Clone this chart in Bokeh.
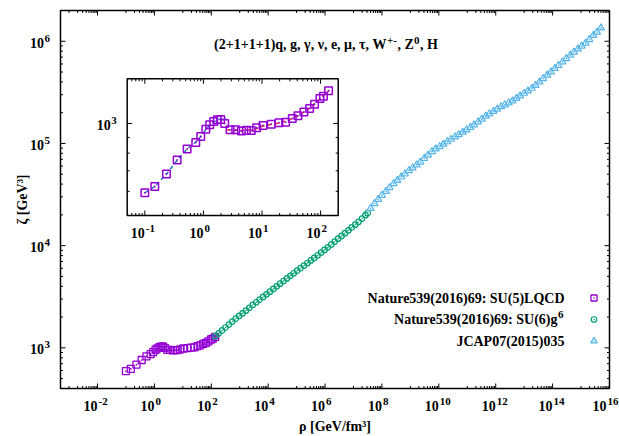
import math
from bokeh.plotting import figure
from bokeh.models import Range1d, LogScale, Label
from bokeh.embed import file_html
from bokeh.resources import INLINE

# ---------------- data ----------------
# Nature539(2016)69: SU(5) LQCD
lqcd_rho = [0.10, 0.148, 0.234, 0.356, 0.527, 0.74, 0.90, 1.10, 1.28, 1.50, 1.73, 1.97, 2.31,
            2.85, 3.56, 4.44, 5.41, 6.58, 8.11, 10.4, 14.4, 19.5, 25.3, 32.9, 41.1, 52.0,
            65.0, 79.0, 97.5, 112.0, 137.0]
lqcd_zeta = [593, 622, 684, 760, 825, 867, 907, 958, 990, 1015, 1028, 1030, 1000,
             953, 953, 944, 951, 949, 968, 985, 995, 1005, 1010, 1038, 1059, 1091,
             1119, 1156, 1206, 1227, 1280]
# inset curves (confined / deconfined branches)
conf_rho = [0.10, 0.15, 0.24, 0.36, 0.53, 0.74, 0.92, 1.12, 1.40, 1.80, 2.45]
conf_zeta = [593, 624, 687, 760, 826, 868, 910, 960, 1005, 1030, 1042]
deconf_rho = [2.47, 3.5, 5.0, 7.0, 10.0, 15.0, 20.0, 30.0, 40.0, 55.0, 75.0, 100.0, 142.0]
deconf_zeta = [953, 950, 948, 952, 978, 995, 1004, 1030, 1057, 1097, 1150, 1210, 1284]
# Nature539(2016)69: SU(6) g^6
g6_rho = [138, 182, 240, 316, 417, 550, 724, 955, 1259, 1660, 2188, 2884, 3802, 5012, 6607, 8710,
          1.148e4, 1.514e4, 1.995e4, 2.63e4, 3.467e4, 4.571e4, 6.026e4, 7.943e4,
          1.047e5, 1.38e5, 1.82e5, 2.40e5, 3.16e5, 4.17e5, 5.50e5, 7.24e5, 9.55e5,
          1.26e6, 1.66e6, 2.19e6, 2.88e6, 3.80e6, 5.01e6, 6.61e6, 8.71e6,
          1.15e7, 1.51e7, 2.0e7, 2.63e7, 3.16e7]
g6_zeta = [1300, 1387, 1479, 1581, 1690, 1807, 1928, 2051, 2178, 2317, 2466, 2630, 2793, 2965, 3148, 3342,
           3548, 3767, 3999, 4246, 4508, 4786, 5070, 5370,
           5690, 6026, 6383, 6761, 7161, 7586, 8054, 8551, 9078,
           9638, 1.028e4, 1.096e4, 1.169e4, 1.245e4, 1.324e4, 1.413e4, 1.507e4,
           1.603e4, 1.710e4, 1.841e4, 1.986e4, 2.080e4]
# JCAP07(2015)035
jcap_rho = [3.98e7, 5.50e7, 7.41e7, 1.0e8, 1.38e8, 1.86e8, 2.57e8, 3.47e8, 4.79e8, 6.46e8, 8.91e8,
            1.20e9, 1.66e9, 2.24e9, 3.09e9, 4.17e9, 5.75e9, 7.76e9, 1.07e10, 1.45e10, 2.0e10,
            2.69e10, 3.72e10, 5.01e10, 6.92e10, 9.33e10, 1.29e11, 1.74e11, 2.40e11, 3.24e11,
            4.47e11, 6.03e11, 8.32e11, 1.12e12, 1.55e12, 2.09e12, 2.88e12, 3.89e12, 5.37e12,
            7.24e12, 1.0e13, 1.35e13, 1.86e13, 2.51e13, 3.47e13, 4.68e13, 6.46e13, 8.71e13,
            1.20e14, 1.62e14, 2.24e14, 3.02e14, 4.17e14, 5.62e14, 7.76e14, 1.05e15, 1.45e15,
            1.95e15, 2.69e15, 3.63e15, 5.01e15]
jcap_zeta = [2.32e4, 2.58e4, 2.84e4, 3.11e4, 3.40e4, 3.70e4, 4.05e4, 4.35e4, 4.70e4, 5.05e4, 5.43e4,
             5.78e4, 6.18e4, 6.58e4, 7.13e4, 7.69e4, 8.34e4, 8.85e4, 9.33e4, 9.84e4, 1.04e5,
             1.10e5, 1.16e5, 1.22e5, 1.29e5, 1.36e5, 1.44e5, 1.52e5, 1.63e5, 1.73e5,
             1.85e5, 1.95e5, 2.06e5, 2.17e5, 2.29e5, 2.39e5, 2.50e5, 2.61e5, 2.76e5,
             2.92e5, 3.10e5, 3.27e5, 3.47e5, 3.70e5, 4.0e5, 4.31e5, 4.66e5, 5.01e5,
             5.42e5, 5.82e5, 6.30e5, 6.78e5, 7.31e5, 7.85e5, 8.41e5, 8.97e5, 9.60e5,
             1.04e6, 1.14e6, 1.23e6, 1.35e6]

# tick labels (base "10" with exponent)
x_major = [1e-2, 1e0, 1e2, 1e4, 1e6, 1e8, 1e10, 1e12, 1e14, 1e16]
x_major_exp = ["-2", "0", "2", "4", "6", "8", "10", "12", "14", "16"]
y_major = [1e3, 1e4, 1e5, 1e6]
y_major_exp = ["3", "4", "5", "6"]
in_x_major = [0.1, 1.0, 10.0, 100.0]
in_x_major_exp = ["-1", "0", "1", "2"]
in_y_major = [1000.0]
in_y_major_exp = ["3"]

x_title = "ρ [GeV/fm³]"
y_title = "ζ [GeV³]"
legend_names = ["Nature539(2016)69: SU(5)LQCD", "Nature539(2016)69: SU(6)g", "JCAP07(2015)035"]

# ---------------- layout ----------------
FONT = "Liberation Serif"
PURPLE, GREEN, CYAN = "#9400d3", "#009e73", "#56b4e9"
W, H = 619, 436
FL, FR, FT, FB = 60.0, 609.0, 10.0, 388.0          # main plot box (pixels)
X0, X1 = 5e-4, 1e16
Y0, Y1 = 400.0, 2e6
lg = math.log10
ppdx = (FR - FL) / (lg(X1) - lg(X0))
ppdy = (FB - FT) / (lg(Y1) - lg(Y0))

IN_L, IN_R, IN_T, IN_B = 126.7, 337.7, 78.3, 215.0  # inset box (pixels)
IX0, IX1 = 0.05, 200.0
IY0, IY1 = 500.0, 1400.0
ippx = (IN_R - IN_L) / (lg(IX1) - lg(IX0))
ippy = (IN_B - IN_T) / (lg(IY1) - lg(IY0))


def px2x(px):
    return 10 ** (lg(X0) + (px - FL) / ppdx)


def py2y(py):
    return 10 ** (lg(Y1) - (py - FT) / ppdy)


p = figure(width=W, height=H, x_axis_type="log", y_axis_type="log",
           x_axis_location=None, y_axis_location=None,
           x_range=Range1d(10 ** (lg(X0) - FL / ppdx), 10 ** (lg(X1) + (W - FR) / ppdx)),
           y_range=Range1d(10 ** (lg(Y0) - (H - FB) / ppdy), 10 ** (lg(Y1) + FT / ppdy)),
           output_backend="svg", toolbar_location=None, min_border=0)
p.title.visible = False
p.grid.visible = False
p.outline_line_color = None
p.background_fill_color = "white"
p.border_fill_color = "white"

p.extra_x_ranges = {"in": Range1d(10 ** (lg(IX0) - IN_L / ippx), 10 ** (lg(IX1) + (W - IN_R) / ippx))}
p.extra_y_ranges = {"in": Range1d(10 ** (lg(IY0) - (H - IN_B) / ippy), 10 ** (lg(IY1) + IN_T / ippy))}
p.extra_x_scales = {"in": LogScale()}
p.extra_y_scales = {"in": LogScale()}
MAIN = dict()
INSET = dict(x_range_name="in", y_range_name="in")

TXT = dict(text_font=FONT, text_font_style="bold", text_color="black", text_baseline="middle")


def draw_box(x0, x1, y0, y1, ppx, ppy, xmaj, xmin, ymaj, ymin, rng, fill=None):
    p.quad(left=[x0], right=[x1], bottom=[y0], top=[y1], fill_color=fill,
           line_color="black", line_width=1.5, **rng)

    def ysh(v, px):
        return 10 ** (lg(v) + px / ppy)

    def xsh(v, px):
        return 10 ** (lg(v) + px / ppx)

    a0, a1, b0, b1 = [], [], [], []
    for t, L in [(t, 5) for t in xmaj] + [(t, 2.5) for t in xmin]:
        a0 += [t, t]; a1 += [t, t]
        b0 += [y0, y1]; b1 += [ysh(y0, L), ysh(y1, -L)]
    for t, L in [(t, 5) for t in ymaj] + [(t, 2.5) for t in ymin]:
        a0 += [x0, x1]; a1 += [xsh(x0, L), xsh(x1, -L)]
        b0 += [t, t]; b1 += [t, t]
    p.segment(a0, b0, a1, b1, line_color="black", line_width=1, **rng)


def tick_labels(xmaj, xexp, ymaj, yexp, x0, y0, rng, last_shift=0.0):
    for i, (v, e) in enumerate(zip(xmaj, xexp)):
        dx = last_shift if i == len(xmaj) - 1 else 0.0
        p.add_layout(Label(x=v, y=y0, text="10", text_align="right", x_offset=dx, y_offset=-17,
                           text_font_size="14px", **rng, **TXT))
        p.add_layout(Label(x=v, y=y0, text=e, text_align="left", x_offset=dx + 1, y_offset=-12.5,
                           text_font_size="11px", **rng, **TXT))
    for v, e in zip(ymaj, yexp):
        p.add_layout(Label(x=x0, y=v, text="10", text_align="right", x_offset=-16.5, y_offset=-1.5,
                           text_font_size="14px", **rng, **TXT))
        p.add_layout(Label(x=x0, y=v, text=e, text_align="left", x_offset=-16, y_offset=3,
                           text_font_size="11px", **rng, **TXT))


# ---------------- main box, ticks, labels ----------------
x_minor = [k * 10 ** e for e in range(-3, 16, 2) for k in range(1, 10) if X0 < k * 10 ** e < X1]
y_minor = [k * 10 ** e for e in range(2, 7) for k in range(2, 10) if Y0 < k * 10 ** e < Y1]
draw_box(X0, X1, Y0, Y1, ppdx, ppdy, x_major, x_minor, y_major, y_minor, MAIN)
tick_labels(x_major, x_major_exp, y_major, y_major_exp, X0, Y0, MAIN, last_shift=-3)

p.add_layout(Label(x=px2x(334.5), y=py2y(426), text=x_title, text_align="center",
                   text_font_size="14px", **TXT))
p.add_layout(Label(x=px2x(22), y=py2y(199), text=y_title, text_align="center", angle=math.pi / 2,
                   text_font_size="14px", **TXT))

# ---------------- main data ----------------
p.scatter(lqcd_rho, lqcd_zeta, marker="square_dot", size=7, fill_color=None,
          line_color=PURPLE, line_width=1.3)
p.scatter(g6_rho, g6_zeta, marker="circle_dot", size=5.5, fill_color=None,
          line_color=GREEN, line_width=1.2)
p.scatter(jcap_rho, jcap_zeta, marker="triangle_dot", size=7, fill_color=None,
          line_color=CYAN, line_width=1.2)

# ---------------- inset ----------------
in_x_minor = [k * 10 ** e for e in range(-2, 3) for k in range(2, 10) if IX0 < k * 10 ** e < IX1]
in_y_minor = [k * 10 ** e for e in range(2, 4) for k in range(2, 10) if IY0 < k * 10 ** e < IY1]
draw_box(IX0, IX1, IY0, IY1, ippx, ippy, in_x_major, in_x_minor, in_y_major, in_y_minor, INSET,
         fill="white")
tick_labels(in_x_major, in_x_major_exp, in_y_major, in_y_major_exp, IX0, IY0, INSET)
p.line(conf_rho, conf_zeta, line_color="#1f78c1", line_width=1.5, line_dash="4 3", **INSET)
p.line(deconf_rho, deconf_zeta, line_color="#e8322a", line_width=1.5, line_dash="4 3", **INSET)
p.scatter(lqcd_rho, lqcd_zeta, marker="square_dot", size=7.5, fill_color=None,
          line_color=PURPLE, line_width=1.5, **INSET)

# ---------------- title (with superscripts) ----------------
TY = 44
p.add_layout(Label(x=px2x(386), y=py2y(TY), text="(2+1+1+1)q, g, γ, ν, e, μ, τ, W", text_align="right",
                   text_font_size="14px", **TXT))
p.add_layout(Label(x=px2x(386.5), y=py2y(TY - 4.5), text="+-", text_align="left",
                   text_font_size="11px", **TXT))
p.add_layout(Label(x=px2x(397), y=py2y(TY), text=", Z", text_align="left",
                   text_font_size="14px", **TXT))
p.add_layout(Label(x=px2x(413.5), y=py2y(TY - 4.5), text="0", text_align="left",
                   text_font_size="11px", **TXT))
p.add_layout(Label(x=px2x(419.5), y=py2y(TY), text=", H", text_align="left",
                   text_font_size="14px", **TXT))

# ---------------- legend (text right-aligned, key at far right) ----------------
LEG_TX, LEG_KX = 564, 593.5
LEG_Y = [297.5, 319.0, 340.5]
p.add_layout(Label(x=px2x(LEG_TX), y=py2y(LEG_Y[0]), text=legend_names[0], text_align="right",
                   text_font_size="14px", **TXT))
p.add_layout(Label(x=px2x(LEG_TX - 7), y=py2y(LEG_Y[1]), text=legend_names[1], text_align="right",
                   text_font_size="14px", **TXT))
p.add_layout(Label(x=px2x(LEG_TX - 6.5), y=py2y(LEG_Y[1] - 5), text="6", text_align="left",
                   text_font_size="11px", **TXT))
p.add_layout(Label(x=px2x(LEG_TX), y=py2y(LEG_Y[2]), text=legend_names[2], text_align="right",
                   text_font_size="14px", **TXT))
p.scatter([px2x(LEG_KX)], [py2y(LEG_Y[0])], marker="square_dot", size=6, fill_color=None,
          line_color=PURPLE, line_width=1.3)
p.scatter([px2x(LEG_KX)], [py2y(LEG_Y[1])], marker="circle_dot", size=5.5, fill_color=None,
          line_color=GREEN, line_width=1.2)
p.scatter([px2x(LEG_KX)], [py2y(LEG_Y[2])], marker="triangle_dot", size=6.5, fill_color=None,
          line_color=CYAN, line_width=1.2)

open("out.html", "w").write(file_html(p, INLINE))
